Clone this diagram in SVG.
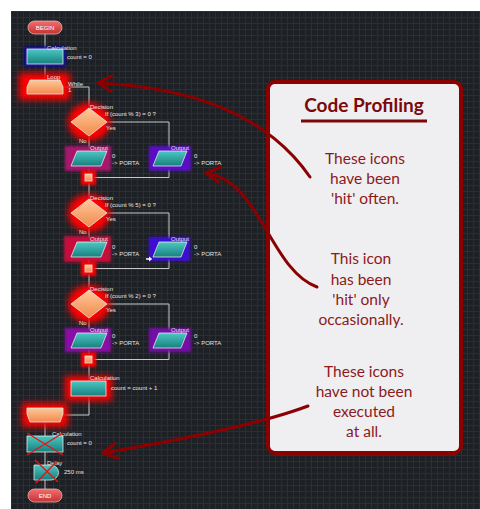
<svg xmlns="http://www.w3.org/2000/svg" width="480" height="509" viewBox="0 0 480 509">
<defs>
  <pattern id="grid" x="11" y="11" width="6" height="6" patternUnits="userSpaceOnUse">
    <rect width="6" height="6" fill="#1d2025"/>
    <path d="M0 0.5 H6 M0.5 0 V6" stroke="#2a2e35" stroke-width="1"/>
  </pattern>
  <linearGradient id="teal" x1="0" y1="0" x2="0" y2="1">
    <stop offset="0" stop-color="#4cc8c4"/>
    <stop offset="1" stop-color="#17807e"/>
  </linearGradient>
  <linearGradient id="orange" x1="0" y1="0" x2="0" y2="1">
    <stop offset="0" stop-color="#ffc89a"/>
    <stop offset="1" stop-color="#f08a4c"/>
  </linearGradient>
  <linearGradient id="pill" x1="0" y1="0" x2="0" y2="1">
    <stop offset="0" stop-color="#f07070"/>
    <stop offset="1" stop-color="#c83030"/>
  </linearGradient>
  <filter id="glow" x="-50%" y="-50%" width="200%" height="200%">
    <feGaussianBlur stdDeviation="3"/>
  </filter>
  <filter id="glowS" x="-50%" y="-50%" width="200%" height="200%">
    <feGaussianBlur stdDeviation="1.6"/>
  </filter>
  <marker id="chev" viewBox="0 0 20 20" refX="18" refY="10" markerWidth="6" markerHeight="6" orient="auto" markerUnits="strokeWidth" overflow="visible">
    <path d="M3 1.5 L18 10 L3 18.5" fill="none" stroke="#8b0000" stroke-width="3.4" stroke-linecap="round" stroke-linejoin="round"/>
  </marker>
</defs>
<style>
  .lbl{font-family:"Liberation Sans",Arial,sans-serif;font-size:6px;fill:#e4e4e4}
  .ptxt{font-family:"Liberation Sans",Arial,sans-serif;font-size:6px;fill:#ffffff}
  .shape{stroke:#e6e6e6;stroke-width:0.8}
  .wire{fill:none;stroke:#c8c8c8;stroke-width:1}
  .red{fill:#ff0000}
  .cross{stroke:#e01818;stroke-width:1.4;fill:none}
  .body{font-family:Lato,"Open Sans",sans-serif;font-size:15.5px;fill:#8c1a1a;text-anchor:middle}
  .title{font-family:Lato,"Open Sans",sans-serif;font-size:19px;font-weight:bold;fill:#7a0a0a;text-anchor:middle}
  .arrow{fill:none;stroke:#8b0000;stroke-width:3;stroke-linecap:round}
</style>
<rect width="480" height="509" fill="#ffffff"/>
<rect x="11" y="11" width="469" height="498" fill="url(#grid)"/>

<g id="connectors">
  <path class="wire" d="M45 34 V49"/>
  <path class="wire" d="M45 64 V80"/>
  <path class="wire" d="M63 87 H89 V108"/>
  <path class="wire" d="M89 136 V151"/>
  <path class="wire" d="M107 122 H169 V151"/>
  <path class="wire" d="M89 166 V174"/>
  <path class="wire" d="M169 166 V177.5 H92"/>
  <path class="wire" d="M89 181 V199"/>
  <path class="wire" d="M89 227 V242"/>
  <path class="wire" d="M107 213 H169 V242"/>
  <path class="wire" d="M89 257 V265"/>
  <path class="wire" d="M169 257 V268.5 H92"/>
  <path class="wire" d="M89 272 V290"/>
  <path class="wire" d="M89 318 V333"/>
  <path class="wire" d="M107 304 H169 V333"/>
  <path class="wire" d="M89 348 V356"/>
  <path class="wire" d="M169 348 V359.5 H92"/>
  <path class="wire" d="M89 363 V381"/>
  <path class="wire" d="M89 396 V415 H63"/>
  <path class="wire" d="M45 422 V436"/>
  <path class="wire" d="M45 452 V465"/>
  <path class="wire" d="M45 480 V489"/>
</g>

<g id="begin">
  <rect x="28" y="21" width="34" height="13" rx="6.5" fill="url(#pill)" stroke="#f0b0b0" stroke-width="0.8"/>
  <text class="ptxt" x="45" y="29.6" text-anchor="middle">BEGIN</text>
</g>

<g id="calc1">
  <rect x="24.5" y="46.5" width="41" height="20" fill="#0b0ba8" filter="url(#glowS)"/>
  <rect class="shape" x="27" y="49" width="36" height="15" fill="url(#teal)"/>
  <text class="lbl" x="47" y="49.5">Calculation</text>
  <text class="lbl" x="67" y="58.5">count = 0</text>
</g>

<g id="loop">
  <rect class="red" x="19" y="73" width="51" height="27" filter="url(#glow)"/>
  <polygon class="shape" points="30,80 60,80 63,87 63,94 27,94 27,87" fill="url(#orange)"/>
  <text class="lbl" x="47" y="79">Loop</text>
  <text class="lbl" x="68" y="85.5">While</text>
  <text class="lbl" x="68" y="92">1</text>
</g>

<g id="decision1">
  <ellipse class="red" cx="89" cy="122" rx="21" ry="19" filter="url(#glow)"/>
  <polygon class="shape" points="89,108 107,122 89,136 71,122" fill="url(#orange)"/>
  <text class="lbl" x="90" y="108.5">Decision</text>
  <text class="lbl" x="105" y="116">If  (count % 3) = 0 ?</text>
  <text class="lbl" x="106" y="130">Yes</text>
  <text class="lbl" x="79" y="143">No</text>
</g>

<g id="output1">
  <rect x="65" y="146" width="46" height="25" fill="#a8126e" filter="url(#glowS)"/>
  <polygon class="shape" points="77,151 107,151 101,166 71,166" fill="url(#teal)"/>
  <text class="lbl" x="90" y="150">Output</text>
  <text class="lbl" x="112" y="158">0</text>
  <text class="lbl" x="112" y="164.5">-&gt; PORTA</text>
</g>

<g id="output2">
  <rect x="149" y="146" width="42" height="25" fill="#5a08c8" filter="url(#glowS)"/>
  <polygon class="shape" points="159,151 187,151 181,166 153,166" fill="url(#teal)"/>
  <text class="lbl" x="171" y="150">Output</text>
  <text class="lbl" x="194" y="158">0</text>
  <text class="lbl" x="194" y="164.5">-&gt; PORTA</text>
</g>

<g id="junction1">
  <rect class="red" x="81" y="170" width="15" height="15" filter="url(#glowS)"/>
  <rect class="shape" x="85" y="174" width="7" height="7" fill="url(#orange)"/>
</g>

<g id="decision2">
  <ellipse class="red" cx="89" cy="213" rx="21" ry="19" filter="url(#glow)"/>
  <polygon class="shape" points="89,199 107,213 89,227 71,213" fill="url(#orange)"/>
  <text class="lbl" x="90" y="199.5">Decision</text>
  <text class="lbl" x="105" y="207">If  (count % 5) = 0 ?</text>
  <text class="lbl" x="106" y="221">Yes</text>
  <text class="lbl" x="79" y="234">No</text>
</g>

<g id="output3">
  <rect x="64" y="236" width="47" height="26" fill="#c8103e" filter="url(#glowS)"/>
  <polygon class="shape" points="77,242 107,242 101,257 71,257" fill="url(#teal)"/>
  <text class="lbl" x="90" y="241">Output</text>
  <text class="lbl" x="112" y="249">0</text>
  <text class="lbl" x="112" y="255.5">-&gt; PORTA</text>
</g>

<g id="output4">
  <rect x="149" y="237" width="41" height="24" fill="#3c08d8" filter="url(#glowS)"/>
  <polygon class="shape" points="159,242 187,242 181,257 153,257" fill="url(#teal)"/>
  <polygon points="146,258.3 149,258.3 149,256.5 152.2,259 149,261.5 149,259.8 146,259.8" fill="#ffffff"/>
  <text class="lbl" x="171" y="241">Output</text>
  <text class="lbl" x="194" y="249">0</text>
  <text class="lbl" x="194" y="255.5">-&gt; PORTA</text>
</g>

<g id="junction2">
  <rect class="red" x="81" y="261" width="15" height="15" filter="url(#glowS)"/>
  <rect class="shape" x="85" y="265" width="7" height="7" fill="url(#orange)"/>
</g>

<g id="decision3">
  <ellipse class="red" cx="89" cy="304" rx="21" ry="19" filter="url(#glow)"/>
  <polygon class="shape" points="89,290 107,304 89,318 71,304" fill="url(#orange)"/>
  <text class="lbl" x="90" y="290.5">Decision</text>
  <text class="lbl" x="105" y="298">If  (count % 2) = 0 ?</text>
  <text class="lbl" x="106" y="312">Yes</text>
  <text class="lbl" x="79" y="325">No</text>
</g>

<g id="output5">
  <rect x="65" y="328" width="46" height="24" fill="#8a10a8" filter="url(#glowS)"/>
  <polygon class="shape" points="77,333 107,333 101,348 71,348" fill="url(#teal)"/>
  <text class="lbl" x="90" y="332">Output</text>
  <text class="lbl" x="112" y="338">0</text>
  <text class="lbl" x="112" y="344.5">-&gt; PORTA</text>
</g>

<g id="output6">
  <rect x="149" y="328" width="42" height="24" fill="#7410a8" filter="url(#glowS)"/>
  <polygon class="shape" points="159,333 187,333 181,348 153,348" fill="url(#teal)"/>
  <text class="lbl" x="171" y="332">Output</text>
  <text class="lbl" x="194" y="338">0</text>
  <text class="lbl" x="194" y="344.5">-&gt; PORTA</text>
</g>

<g id="junction3">
  <rect class="red" x="81" y="352" width="15" height="15" filter="url(#glowS)"/>
  <rect class="shape" x="85" y="356" width="7" height="7" fill="url(#orange)"/>
</g>

<g id="calc2">
  <rect class="red" x="65" y="376" width="47" height="25" filter="url(#glow)"/>
  <rect class="shape" x="71" y="381" width="35" height="15" fill="url(#teal)"/>
  <text class="lbl" x="90" y="380">Calculation</text>
  <text class="lbl" x="111" y="389.5">count = count + 1</text>
</g>

<g id="loopend">
  <rect class="red" x="22" y="403" width="46" height="24" filter="url(#glow)"/>
  <polygon class="shape" points="27,408 63,408 63,414 60,422 30,422 27,414" fill="url(#orange)"/>
</g>

<g id="calc3">
  <rect class="shape" x="27" y="436" width="36" height="16" fill="url(#teal)"/>
  <text class="lbl" x="52" y="436">Calculation</text>
  <text class="lbl" x="67" y="444.5">count = 0</text>
  <path class="cross" d="M27 433 L63 455 M63 433 L27 455"/>
</g>

<g id="delay">
  <path class="shape" d="M34 465 H51 A7.5 7.5 0 0 1 51 480 H34 Z" fill="url(#teal)"/>
  <text class="lbl" x="47" y="465">Delay</text>
  <text class="lbl" x="64" y="474">250 ms</text>
  <path class="cross" d="M35 460 L58 482 M57 461 L36 483"/>
</g>

<g id="end">
  <rect x="28" y="489" width="34" height="13" rx="6.5" fill="url(#pill)" stroke="#f0b0b0" stroke-width="0.8"/>
  <text class="ptxt" x="45" y="497.6" text-anchor="middle">END</text>
</g>

<g id="callout">
  <rect x="268" y="82" width="193" height="371" rx="7" fill="#efeef1" stroke="#8b0000" stroke-width="4"/>
  <text class="title" x="364" y="112">Code Profiling</text>
  <rect x="301" y="119.5" width="126" height="3" fill="#7a0a0a"/>
  <text class="body" x="365" y="164">These icons</text>
  <text class="body" x="365" y="184">have been</text>
  <text class="body" x="365" y="204">'hit' often.</text>
  <text class="body" x="361" y="264">This icon</text>
  <text class="body" x="361" y="285">has been</text>
  <text class="body" x="361" y="305">'hit' only</text>
  <text class="body" x="361" y="325">occasionally.</text>
  <text class="body" x="364" y="377">These icons</text>
  <text class="body" x="364" y="397">have not been</text>
  <text class="body" x="364" y="417">executed</text>
  <text class="body" x="364" y="437">at all.</text>
</g>

<g id="arrows">
  <path class="arrow" d="M310 177 Q250 90 98 83" marker-end="url(#chev)"/>
  <path class="arrow" d="M317 287 C270 270 260 180 206 173" marker-end="url(#chev)"/>
  <path class="arrow" d="M308 406 Q250 428 103 453" marker-end="url(#chev)"/>
</g>
</svg>
